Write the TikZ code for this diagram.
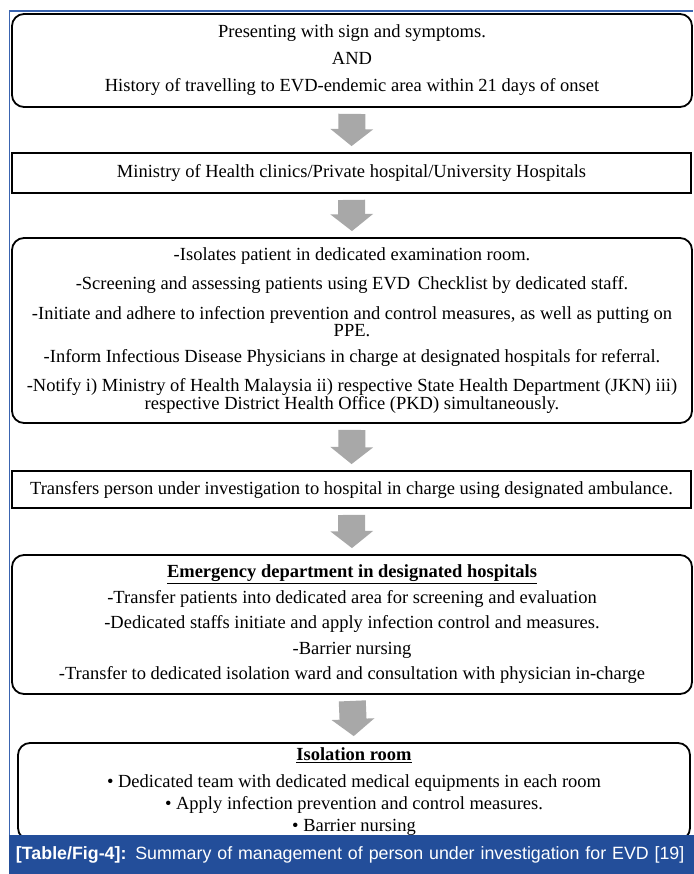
\documentclass[tikz,border=0pt]{standalone}
\usepackage{fontspec}
\setmainfont{Liberation Serif}
\newfontfamily\capfont{Liberation Sans}
\usetikzlibrary{arrows.meta}
\definecolor{capblue}{HTML}{234E9A}
\definecolor{edgeblue}{HTML}{3A64B0}
\definecolor{arrgray}{HTML}{A8A8A8}
\begin{document}
\begin{tikzpicture}[x=1pt,y=-1pt,
  boxbase/.style={draw=black, line width=1.8pt, fill=white, inner sep=0pt, align=center},
  rbox/.style={boxbase, rounded corners=12pt},
  sbox/.style={boxbase},
  flow/.style={draw=arrgray, line width=27pt, -{Triangle[length=17pt 0 0, width=42pt 0 0]}, shorten <=6pt, shorten >=6pt},
  capbar/.style={fill=capblue, text=white, inner xsep=7pt, inner ysep=0pt, text width=677pt, minimum height=39pt, align=left, font=\capfont\fontsize{17.8}{17.8}\selectfont}
]
\useasboundingbox (0,0) rectangle (693,874);
\fill[white] (0,0) rectangle (693,874);
\draw[edgeblue, line width=1.5pt] (9.5,874) -- (9.5,11) -- (693,11);

\node[rbox, minimum width=680pt, minimum height=93pt, font=\fontsize{18.5}{27}\selectfont] (b1) at (352,60.5)
  {Presenting with sign and symptoms.\\ AND\\ History of travelling to EVD-endemic area within 21 days of onset};

\node[sbox, minimum width=679pt, minimum height=40pt, font=\fontsize{18.5}{18.5}\selectfont] (b2) at (351.5,173)
  {Ministry of Health clinics/Private hospital/University Hospitals};

\node[rbox, minimum width=680pt, minimum height=185pt, font=\fontsize{18.5}{15.5}\selectfont] (b3) at (352,330.5)
  {-Isolates patient in dedicated examination room.\\[11.5pt]
   -Screening and assessing patients using EVD\, Checklist by dedicated staff.\\[11.5pt]
   -Initiate and adhere to infection prevention and control measures, as well as putting on\\ PPE.\\[10.5pt]
   -Inform Infectious Disease Physicians in charge at designated hospitals for referral.\\[11.5pt]
   -Notify i) Ministry of Health Malaysia ii) respective State Health Department (JKN) iii)\\ respective District Health Office (PKD) simultaneously.};

\node[sbox, minimum width=679pt, minimum height=37pt, font=\fontsize{18.5}{18.5}\selectfont] (b4) at (351.5,489.5)
  {Transfers person under investigation to hospital in charge using designated ambulance.};

\node[rbox, minimum width=680pt, minimum height=139pt, font=\fontsize{18.5}{25.5}\selectfont] (b5) at (352,624.5)
  {\underline{\textbf{Emergency department in designated hospitals}}\\
   -Transfer patients into dedicated area for screening and evaluation\\
   -Dedicated staffs initiate and apply infection control and measures.\\
   -Barrier nursing\\
   -Transfer to dedicated isolation ward and consultation with physician in-charge};

\node[rbox, minimum width=672pt, minimum height=97pt, font=\fontsize{18.5}{22}\selectfont] (b6) at (354,791.5)
  {\underline{\textbf{Isolation room}}\\[5pt]
   • Dedicated team with dedicated medical equipments in each room\\
   • Apply infection prevention and control measures.\\
   • Barrier nursing};

\draw[flow] (b1.south) -- (b2.north);
\draw[flow] (b2.south) -- (b3.north);
\draw[flow] (b3.south) -- (b4.north);
\draw[flow] (b4.south) -- (b5.north);
\draw[flow] (b5.south) -- (b6.north);

\node[capbar] (cap) at (354.5,854.5)
  {\mbox{\textbf{[Table/Fig-4]:} Summary of management of person under investigation for EVD [19]}};
\end{tikzpicture}
\end{document}
